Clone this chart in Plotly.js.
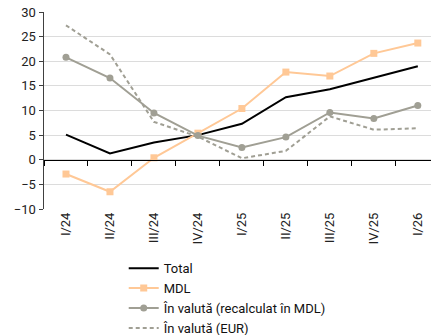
<!DOCTYPE html>
<html><head><meta charset="utf-8">
<script src="https://cdn.plot.ly/plotly-3.0.1.min.js"></script>
<style>html,body{margin:0;padding:0;background:#fff}#c{width:431px;height:335px}</style>
</head><body><div id="c"></div>
<script>
const categories = ["I/24","II/24","III/24","IV/24","I/25","II/25","III/25","IV/25","I/26"];
const total = [5.1, 1.3, 3.5, 5.0, 7.3, 12.7, 14.3, 16.7, 19.0];
const mdl = [-2.9, -6.5, 0.4, 5.4, 10.4, 17.8, 17.0, 21.6, 23.7];
const valutaMDL = [20.8, 16.6, 9.5, 4.9, 2.5, 4.6, 9.6, 8.4, 11.0];
const valutaEUR = [27.3, 21.4, 7.7, 4.7, 0.3, 1.8, 8.8, 6.1, 6.4];
const names = ["Total", "MDL", "În valută (recalculat în MDL)", "În valută (EUR)"];
const yTicks = [-10, -5, 0, 5, 10, 15, 20, 25, 30];

const traces = [
  {x: categories, y: total, name: names[0], mode: "lines", line: {color: "#000000", width: 2}},
  {x: categories, y: mdl, name: names[1], mode: "lines+markers", line: {color: "#FFC896", width: 2}, marker: {symbol: "square", size: 7, color: "#FFC896"}},
  {x: categories, y: valutaMDL, name: names[2], mode: "lines+markers", line: {color: "#A09F94", width: 2}, marker: {symbol: "circle", size: 7, color: "#A09F94"}},
  {x: categories, y: valutaEUR, name: names[3], mode: "lines", line: {color: "#A09F94", width: 2, dash: "4px,3px"}},
  {x: categories, y: categories.map(() => null), xaxis: "x2", showlegend: false, hoverinfo: "skip", mode: "lines"}
];

const layout = {
  width: 431, height: 335,
  margin: {l: 44, r: 0, t: 12, b: 126, autoexpand: false},
  paper_bgcolor: "#fff", plot_bgcolor: "#fff",
  font: {family: "Roboto, sans-serif", size: 13, color: "#222"},
  showlegend: true,
  legend: {x: 0.206, y: 0.244, xref: "paper", yref: "container", xanchor: "left", yanchor: "top", orientation: "v",
           font: {size: 13, color: "#111"}, bgcolor: "rgba(0,0,0,0)", tracegroupgap: 0, itemwidth: 30},
  xaxis: {type: "category", range: [-0.5, 8.3], showline: false, showgrid: false, zeroline: false,
          ticks: "", tickangle: -90, tickfont: {size: 13, color: "#222"}},
  xaxis2: {type: "category", overlaying: "x", anchor: "free", position: 0.25, range: [-0.5, 8.3],
           showline: true, linecolor: "#000", linewidth: 1.5, ticks: "outside", tickson: "boundaries",
           ticklen: 5, tickcolor: "#000", tickwidth: 1, showticklabels: false, showgrid: false, zeroline: false},
  yaxis: {range: [-10, 30], tickvals: yTicks, showline: true, linecolor: "#404040", linewidth: 1.5,
          ticks: "outside", ticklen: 4, tickcolor: "#404040", showgrid: true, gridcolor: "#dcdcdc", gridwidth: 1,
          zeroline: false, tickfont: {size: 13, color: "#222"}}
};

Plotly.newPlot("c", traces, layout, {staticPlot: true});
</script></body></html>
